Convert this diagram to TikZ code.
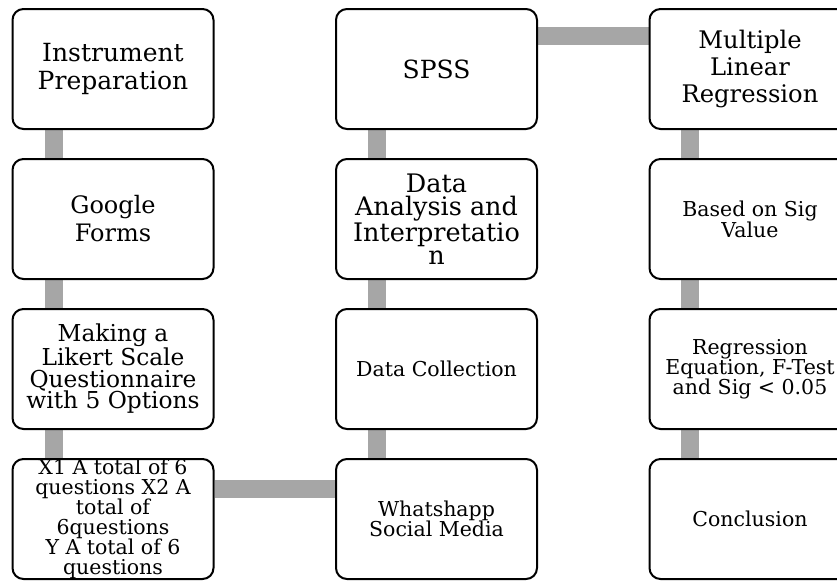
\documentclass[tikz,border=0pt]{standalone}
\usepackage{fontspec}
\setmainfont{DejaVu Serif}
\definecolor{linkgray}{HTML}{A6A6A6}
\pgfdeclarelayer{bg}
\pgfsetlayers{bg,main}
\begin{document}
\begin{tikzpicture}[x=1pt,y=-1pt,
  stepbox/.style={draw=black, line width=2pt, rounded corners=11pt, fill=white,
    minimum width=201pt, minimum height=120pt, align=center, inner sep=0pt},
  bigtext/.style={font=\fontsize{25}{28}\selectfont},
  smalltext/.style={font=\fontsize{20.5}{20}\selectfont},
  link/.style={draw=linkgray, line width=18pt}]
\useasboundingbox (0,0) rectangle (837,581);
\clip (0,0) rectangle (837,581);

% left column
\node[stepbox, bigtext] (prep) at (113,69) {Instrument\\Preparation};
\node[stepbox, font=\fontsize{24}{28}\selectfont] (forms) at (113,219) {Google\\Forms};
\node[stepbox, font=\fontsize{23.3}{21.5}\selectfont] (likert) at (113,369) {Making a\\Likert Scale\\Questionnaire\\with 5 Options};
\node[stepbox, smalltext] (items) at (113,519) {X1 A total of 6\\questions X2 A\\total of\\6questions\\Y A total of 6\\questions};

% middle column
\node[stepbox, bigtext] (spss) at (436.5,69) {SPSS};
\node[stepbox, font=\fontsize{25.5}{23}\selectfont] (analysis) at (436.5,219) {Data\\Analysis and\\Interpretatio\\n};
\node[stepbox, smalltext] (collect) at (436.5,369) {Data Collection};
\node[stepbox, smalltext] (wa) at (436.5,519) {Whatshapp\\Social Media};

% right column
\node[stepbox, font=\fontsize{24.2}{27}\selectfont] (mlr) at (750,69) {Multiple\\Linear\\Regression};
\node[stepbox, smalltext] (sig) at (750,219) {Based on Sig\\Value};
\node[stepbox, smalltext] (eq) at (750,369) {Regression\\Equation, F-Test\\and Sig < 0.05};
\node[stepbox, smalltext] (concl) at (750,519) {Conclusion};

% connectors behind the boxes
\begin{pgfonlayer}{bg}
  \draw[link] ([xshift=42pt]prep.south west) -- ([xshift=42pt]forms.north west);
  \draw[link] ([xshift=42pt]forms.south west) -- ([xshift=42pt]likert.north west);
  \draw[link] ([xshift=42pt]likert.south west) -- ([xshift=42pt]items.north west);
  \draw[link] ([yshift=-31pt]items.north east) -- ([yshift=-31pt]wa.north west);
  \draw[link] ([xshift=42pt]wa.north west) -- ([xshift=42pt]collect.south west);
  \draw[link] ([xshift=42pt]collect.north west) -- ([xshift=42pt]analysis.south west);
  \draw[link] ([xshift=42pt]analysis.north west) -- ([xshift=42pt]spss.south west);
  \draw[link] ([yshift=-28pt]spss.north east) -- ([yshift=-28pt]mlr.north west);
  \draw[link] ([xshift=41pt]mlr.south west) -- ([xshift=41pt]sig.north west);
  \draw[link] ([xshift=41pt]sig.south west) -- ([xshift=41pt]eq.north west);
  \draw[link] ([xshift=41pt]eq.south west) -- ([xshift=41pt]concl.north west);
\end{pgfonlayer}
\end{tikzpicture}
\end{document}
